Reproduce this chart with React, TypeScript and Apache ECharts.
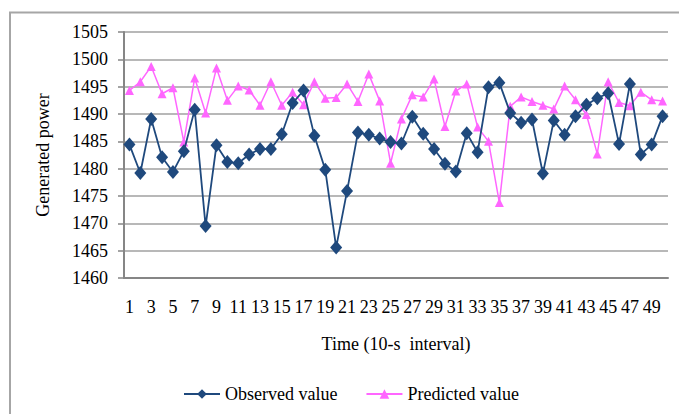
import { useEffect, useRef } from "react"
import * as echarts from "echarts"

// Time steps (10-s interval)
const timeSteps: string[] = Array.from({ length: 50 }, (_, i) => String(i + 1))

// Observed generated power
const observedValues: number[] = [
  1484.4, 1479.2, 1489.1, 1482.1, 1479.4, 1483.2, 1490.8, 1469.5, 1484.3, 1481.2,
  1481.0, 1482.6, 1483.6, 1483.6, 1486.3, 1492.0, 1494.3, 1486.0, 1479.8, 1465.6,
  1475.9, 1486.6, 1486.2, 1485.5, 1484.9, 1484.6, 1489.5, 1486.4, 1483.6, 1480.9,
  1479.5, 1486.5, 1483.0, 1494.9, 1495.7, 1490.2, 1488.4, 1489.0, 1479.1, 1488.8,
  1486.2, 1489.6, 1491.7, 1492.9, 1493.8, 1484.5, 1495.5, 1482.6, 1484.4, 1489.6,
]

// Predicted generated power
const predictedValues: number[] = [
  1494.3, 1495.9, 1498.7, 1493.7, 1494.8, 1484.9, 1496.6, 1490.2, 1498.4, 1492.5,
  1495.1, 1494.4, 1491.6, 1495.9, 1491.6, 1494.0, 1491.7, 1495.9, 1492.9, 1493.0,
  1495.5, 1492.3, 1497.3, 1492.4, 1481.0, 1489.1, 1493.5, 1493.1, 1496.4, 1487.7,
  1494.2, 1495.5, 1487.6, 1485.0, 1473.8, 1491.4, 1493.1, 1492.3, 1491.6, 1490.9,
  1495.1, 1492.6, 1489.9, 1482.7, 1495.9, 1492.1, 1491.5, 1494.0, 1492.6, 1492.4,
]

const FONT = "Liberation Serif, Times New Roman, serif"

export default function App() {
  const chartRef = useRef<HTMLDivElement>(null)

  useEffect(() => {
    if (!chartRef.current) return
    const chart = echarts.init(chartRef.current, undefined, { renderer: "svg" })

    const options: echarts.EChartsOption = {
      animation: false,
      backgroundColor: "#ffffff",
      textStyle: { fontFamily: FONT, color: "#000" },
      graphic: [
        {
          type: "rect",
          shape: { x: 10, y: 12.5, width: 720, height: 440 },
          style: { fill: "none", stroke: "#a6a6a6", lineWidth: 2 },
          silent: true,
        },
      ],
      grid: { left: 124, right: 11, top: 32, bottom: 136 },
      legend: {
        left: 178,
        top: 380,
        itemWidth: 36,
        itemHeight: 12,
        itemGap: 28,
        textStyle: { fontFamily: FONT, fontSize: 18, color: "#000" },
        data: ["Observed value", "Predicted value"],
      },
      xAxis: {
        type: "category",
        data: timeSteps,
        boundaryGap: true,
        name: "Time (10-s  interval)",
        nameLocation: "middle",
        nameGap: 57,
        nameTextStyle: { fontFamily: FONT, fontSize: 18, color: "#000" },
        axisLine: { show: true, lineStyle: { color: "#868686", width: 2 } },
        axisTick: { show: false },
        axisLabel: {
          interval: 1,
          margin: 20,
          fontFamily: FONT,
          fontSize: 18,
          color: "#000",
        },
        splitLine: { show: false },
      },
      yAxis: {
        type: "value",
        min: 1460,
        max: 1505,
        interval: 5,
        name: "Generated power",
        nameLocation: "middle",
        nameGap: 72,
        nameTextStyle: { fontFamily: FONT, fontSize: 18, color: "#000" },
        axisLine: { show: true, lineStyle: { color: "#868686", width: 2 } },
        axisTick: { show: true, length: 6, lineStyle: { color: "#868686", width: 1.5 } },
        axisLabel: {
          margin: 16,
          fontFamily: FONT,
          fontSize: 18,
          color: "#000",
          formatter: (v: number) => String(v),
        },
        splitLine: { show: true, lineStyle: { color: "#a0a0a0", width: 1.5 } },
      },
      series: [
        {
          name: "Observed value",
          type: "line",
          data: observedValues,
          symbol: "diamond",
          symbolSize: [12, 14],
          showSymbol: true,
          showAllSymbol: true,
          itemStyle: { color: "#1f497d" },
          lineStyle: { color: "#1f497d", width: 1.8 },
          z: 3,
        },
        {
          name: "Predicted value",
          type: "line",
          data: predictedValues,
          symbol: "triangle",
          symbolSize: 9,
          showSymbol: true,
          showAllSymbol: true,
          itemStyle: { color: "#ff66ff" },
          lineStyle: { color: "#ff66ff", width: 1.5 },
          z: 2,
        },
      ],
    }

    chart.setOption(options)

    return () => {
      chart.dispose()
    }
  }, [])

  return (
    <div
      ref={chartRef}
      style={{ position: "fixed", left: 0, top: 0, width: 679, height: 414 }}
    />
  )
}
